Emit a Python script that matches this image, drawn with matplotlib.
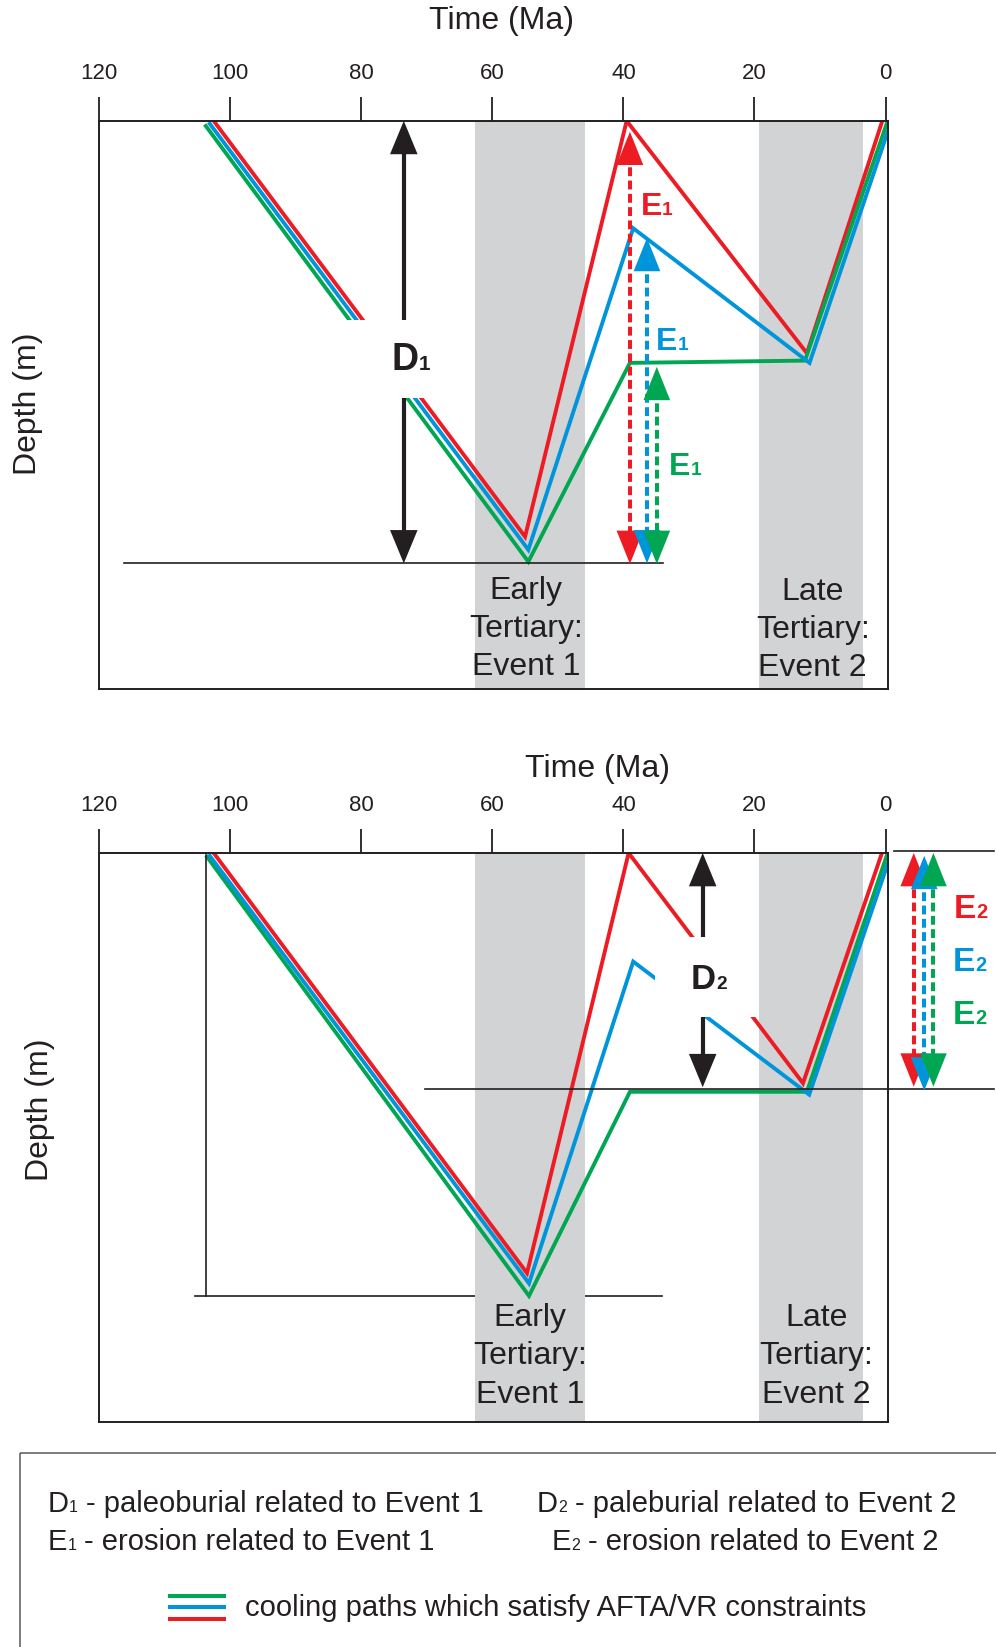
import matplotlib.pyplot as plt
from matplotlib.patches import Rectangle

plt.rcParams['font.family'] = ['Liberation Sans', 'DejaVu Sans']

RED = '#ed1c24'
BLUE = '#0095da'
GREEN = '#00a651'
INK = '#231f20'
BAND = '#d1d3d4'

# time axis (Ma) and the two heating events
time_ticks = [120, 100, 80, 60, 40, 20, 0]
early_event = (62.6, 45.8)
late_event = (19.3, 3.5)
early_text = ['Early', 'Tertiary:', 'Event 1']
late_text = ['Late', 'Tertiary:', 'Event 2']

# cooling paths: time (Ma) / depth (relative, 0 = surface, 100 = panel base)
top_red_time = [102.5, 55.0, 39.5, 12.0, 0.5]
top_red_depth = [0.0, 73.2, 0.0, 40.9, 0.0]
top_blue_time = [103.1, 54.5, 38.5, 11.6, -0.3]
top_blue_depth = [0.5, 75.5, 18.9, 42.6, 2.0]
top_green_time = [103.7, 54.5, 39.0, 12.3, -0.2]
top_green_depth = [0.9, 77.6, 42.6, 42.2, 0.4]

bot_red_time = [102.5, 54.7, 39.2, 12.6, 0.55]
bot_red_depth = [0.0, 73.9, 0.0, 40.5, 0.0]
bot_blue_time = [103.1, 54.4, 38.5, 11.65, -0.3]
bot_blue_depth = [0.5, 75.7, 19.1, 42.5, 2.0]
bot_green_time = [103.5, 54.4, 39.0, 12.0, -0.2]
bot_green_depth = [0.7, 77.9, 42.0, 42.0, 0.4]

# paleoburial (D) and erosion (E) arrows
d1_time, d1_range = 73.5, (0.0, 77.9)
d2_time, d2_range = 27.9, (0.0, 41.2)
e1_time = [39.0, 36.4, 34.9]
e1_top = [1.9, 20.6, 43.3]
e1_base = [78.0, 77.9, 78.0]
e2_time = [-4.3, -5.9, -7.3]
e2_top = [0.0, 0.5, 0.0]
e2_base = [41.1, 41.8, 41.1]
colors = [RED, BLUE, GREEN]


def sub_text(ax, x, y, main, sub, size, rest=None, ha='left', ratio=0.55, **kw):
    # main letter + small subscript digit sitting near the baseline
    t = ax.text(x, y, main, fontsize=size, ha=ha, va='baseline', **kw)
    lift = 0.212 * size * (1 - ratio)
    s = ax.annotate(sub, xy=(1, 0), xycoords=t, xytext=(0.3, lift),
                    textcoords='offset points', fontsize=ratio * size,
                    ha='left', va='bottom', **kw)
    if rest:
        ax.annotate(rest, xy=(1, 0), xycoords=s, xytext=(0.27 * size, -lift),
                    textcoords='offset points', fontsize=size, ha='left', va='bottom', **kw)


def head(ax, t, tip, back, color, width=0.6):
    ax.annotate('', xy=(t, tip), xytext=(t, back), annotation_clip=False,
                arrowprops=dict(arrowstyle='-|>,head_length=1.5,head_width=%g' % width,
                                color=color, lw=0, shrinkA=0, shrinkB=0,
                                mutation_scale=16, clip_on=False), zorder=3.5)


def arrow(ax, t, d0, d1, color, dashed=True):
    ls = (0, (2.2, 1.1)) if dashed else '-'
    ax.plot([t, t], [d0 + 4, d1 - 4], color=color, lw=2.9 if dashed else 3.0, ls=ls,
            dash_capstyle='butt', solid_capstyle='butt', zorder=3, clip_on=False)
    w = 0.6 if dashed else 0.62
    head(ax, t, d0, d0 + 6.5, color, w)
    head(ax, t, d1, d1 - 6.5, color, w)


def setup(ax, title_xy, ylabel_xy):
    ax.set_xlim(120, -0.3)
    ax.set_ylim(100, 0)
    ax.set_xticks(time_ticks)
    ax.xaxis.set_ticks_position('top')
    ax.tick_params(axis='x', top=True, bottom=False, labeltop=True, labelbottom=False,
                   direction='out', length=17.3, width=1.3, pad=9.5, labelsize=16,
                   colors=INK)
    ax.tick_params(axis='y', left=False, labelleft=False)
    for sp in ax.spines.values():
        sp.set_linewidth(1.4)
        sp.set_color(INK)
    ax.text(title_xy[0], title_xy[1], 'Time (Ma)', transform=ax.transAxes,
            ha='center', va='center', fontsize=23, color=INK)
    ax.text(ylabel_xy[0], ylabel_xy[1], 'Depth (m)', transform=ax.transAxes,
            ha='center', va='center', rotation=90, fontsize=23, color=INK)
    for span in (early_event, late_event):
        ax.axvspan(span[0], span[1], color=BAND, lw=0, zorder=1)


def paths(ax, red, blue, green):
    for (tt, dd), c in ((red, RED), (green, GREEN), (blue, BLUE)):
        ax.plot(tt, dd, color=c, lw=2.8, solid_joinstyle='miter', zorder=2)


def event_labels(ax, early_t, late_t, base_early, base_late, step):
    for i, (a, b) in enumerate(zip(early_text, late_text)):
        ax.text(early_t, base_early + i * step, a, ha='center', va='baseline',
                fontsize=23, color=INK, zorder=5)
        ax.text(late_t, base_late + i * step, b, ha='center', va='baseline',
                fontsize=23, color=INK, zorder=5)


fig = plt.figure(figsize=(9.96, 16.47), dpi=100)
ax1 = fig.add_axes([0.0994, 0.5817, 0.7917, 0.3449])
ax2 = fig.add_axes([0.0994, 0.1369, 0.7917, 0.3452])

# ---- top panel: Event 1
setup(ax1, (0.511, 1.176), (-0.090, 0.502))
ax1.plot([116.2, 33.9], [77.9, 77.9], color=INK, lw=1.2, zorder=2.5)
paths(ax1, (top_red_time, top_red_depth), (top_blue_time, top_blue_depth),
      (top_green_time, top_green_depth))
arrow(ax1, d1_time, d1_range[0], d1_range[1], INK, dashed=False)
for i in range(3):
    arrow(ax1, e1_time[i], e1_top[i], e1_base[i], colors[i])
ax1.add_patch(Rectangle((82.8, 35.0), 64.2 - 82.8, 13.8, facecolor='white',
                        edgecolor='none', zorder=4))
sub_text(ax1, 73.3, 43.8, 'D', '1', 27, ha='center', color=INK, fontweight='bold', zorder=5)
e1_label_pos = [(37.4, 16.6), (35.1, 40.3), (33.0, 62.3)]
for (x, y), c in zip(e1_label_pos, colors):
    sub_text(ax1, x, y, 'E', '1', 23, ratio=0.6, color=c, fontweight='bold', zorder=5)
event_labels(ax1, 54.8, 11.1, 84.1, 84.4, 6.7)

# ---- bottom panel: Event 2
setup(ax2, (0.632, 1.148), (-0.075, 0.548))
ax2.plot([105.3, 34.1], [77.9, 77.9], color=INK, lw=1.2, zorder=0.9)
ax2.plot([103.7, 103.7], [0.35, 77.9], color=INK, lw=1.2, zorder=2.5)
ax2.plot([70.2, -16.6], [41.5, 41.5], color=INK, lw=1.2, zorder=2.5, clip_on=False)
ax2.plot([-1.3, -16.6], [-0.4, -0.4], color=INK, lw=1.2, zorder=2.5, clip_on=False)
paths(ax2, (bot_red_time, bot_red_depth), (bot_blue_time, bot_blue_depth),
      (bot_green_time, bot_green_depth))
arrow(ax2, d2_time, d2_range[0], d2_range[1], INK, dashed=False)
for i in range(3):
    arrow(ax2, e2_time[i], e2_top[i], e2_base[i], colors[i])
ax2.add_patch(Rectangle((35.2, 14.8), 19.4 - 35.2, 14.0, facecolor='white',
                        edgecolor='none', zorder=4))
sub_text(ax2, 27.8, 24.0, 'D', '2', 25, ha='center', color=INK, fontweight='bold', zorder=5)
e2_label_pos = [(-10.4, 11.4), (-10.2, 20.8), (-10.3, 30.0)]
for (x, y), c in zip(e2_label_pos, colors):
    sub_text(ax2, x, y, 'E', '2', 24, ratio=0.6, color=c, fontweight='bold', zorder=5)
event_labels(ax2, 54.2, 10.6, 83.2, 83.2, 6.75)

# ---- legend (pixel coordinates)
lax = fig.add_axes([0, 0, 1, 207 / 1647])
lax.set_xlim(0, 996)
lax.set_ylim(1647, 1440)
lax.axis('off')
lax.add_patch(Rectangle((20, 1453), 1100, 400, fill=False, edgecolor='#58595b', lw=1.1,
                        clip_on=False))
sub_text(lax, 47.6, 1511.7, 'D', '1', 21, rest='- paleoburial related to Event 1', color=INK)
sub_text(lax, 537, 1511.7, 'D', '2', 21, rest='- paleburial related to Event 2', color=INK)
sub_text(lax, 47.6, 1550, 'E', '1', 21, rest='- erosion related to Event 1', color=INK)
sub_text(lax, 551.5, 1550, 'E', '2', 21, rest='- erosion related to Event 2', color=INK)
for yy, c in ((1595.7, GREEN), (1607, BLUE), (1619, RED)):
    lax.plot([168, 225.5], [yy, yy], color=c, lw=2.9, solid_capstyle='butt')
lax.text(244.6, 1616, 'cooling paths which satisfy AFTA/VR constraints', fontsize=21,
         va='baseline', ha='left', color=INK)

fig.savefig('out.png', dpi=100)
